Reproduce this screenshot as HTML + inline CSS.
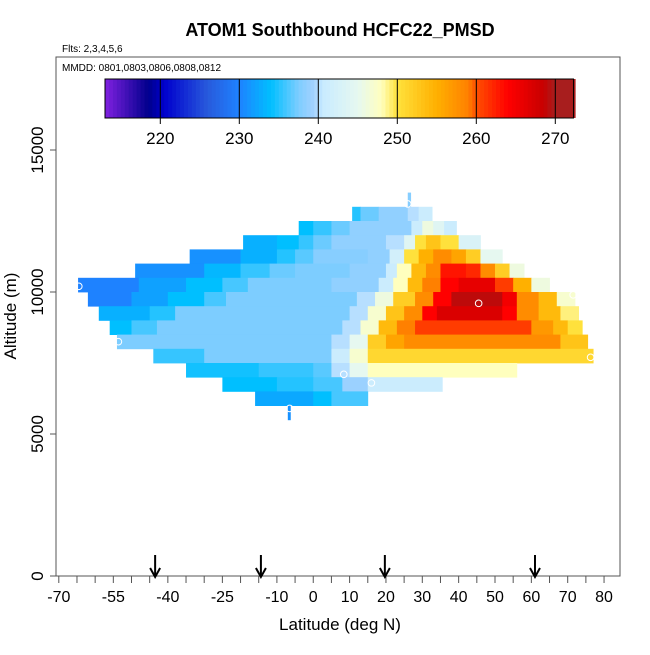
<!DOCTYPE html>
<html><head><meta charset="utf-8"><style>
body{margin:0;background:#fff}
svg text{font-family:"Liberation Sans",sans-serif}
</style></head><body>
<svg id="c" width="650" height="650" xmlns="http://www.w3.org/2000/svg">
<text x="340" y="36" text-anchor="middle" font-size="18" font-weight="bold">ATOM1 Southbound HCFC22_PMSD</text>
<text x="62" y="52" font-size="10">Flts: 2,3,4,5,6</text>
<rect x="56" y="57" width="564" height="519" fill="none" stroke="#555" stroke-width="1"/>
<text x="62" y="71" font-size="10">MMDD: 0801,0803,0806,0808,0812</text>
<g id="heat"></g>
<g id="circ"></g>
<g id="cbar"></g>
<g id="axes"></g>
<text x="340" y="630" text-anchor="middle" font-size="17">Latitude (deg N)</text>
<text transform="translate(16,316) rotate(-90)" text-anchor="middle" font-size="17">Altitude (m)</text>
</svg>
<script>
// rows: bottom altitude (m) and segments [latStart, latEnd, value]
const rowAlts = [13000,12500,12000,11500,11000,10500,10000,9500,9000,8500,8000,7500,7000,6500,6000,5500];
const rowSegs = [
 [[26,26.8,238]],
 [[10.7,13,235],[13,18,237],[18,26,238.5],[26,29,240],[29,32.7,241]],
 [[-4,0,234],[0,5,235.5],[5,10,237],[10,27,238.5],[27,30,241],[30,33,246],[33,36,244],[36,39.4,241]],
 [[-19.3,-10,233],[-10,-4,234],[-4,0,235.5],[0,5,237],[5,20,238.5],[20,25,240],[25,28,244],[28,31,250],[31,35,253],[35,40,250],[40,46,243]],
 [[-34,-20,231],[-20,-10,233],[-10,-5,235],[-5,0,236.5],[0,15,238],[15,21,238.5],[21,25,242],[25,29,250],[29,33,255],[33,38,258],[38,42,256],[42,46,252],[46,52,245]],
 [[-49,-30,231],[-30,-20,233.5],[-20,-12,235.5],[-12,-5,237],[-5,10,237.5],[10,20,238.5],[20,23,241],[23,27,248],[27,31,254],[31,35,258],[35,42,263],[42,46,262],[46,50,258],[50,54,252],[54,58,246]],
 [[-64.7,-48,230],[-48,-35,232],[-35,-25,234],[-25,-18,236],[-18,5,237.5],[5,18,238.5],[18,22,241],[22,26,248],[26,30,254],[30,35,259],[35,40,264],[40,50,266],[50,55,261],[55,60,255],[60,65,246]],
 [[-62,-50,230],[-50,-40,232],[-40,-30,234],[-30,-24,236],[-24,12,237.5],[12,17,240],[17,22,246],[22,28,252],[28,33,258],[33,38,264],[38,52,269],[52,56,265],[56,62,258],[62,67,254],[67,72,247]],
 [[-59,-45,233],[-45,-38,235],[-38,10,237.5],[10,15,240],[15,20,247],[20,25,253],[25,30,258],[30,34,264],[34,52,267],[52,56,264],[56,62,258],[62,68,254],[68,73,249]],
 [[-56,-50,234],[-50,-43,236],[-43,8,237.5],[8,13,240],[13,18,247],[18,23,254],[23,28,259],[28,60,261],[60,66,257],[66,70,254],[70,74,250]],
 [[-54,5,237.5],[5,10,240],[10,15,245],[15,20,252],[20,25,256],[25,68,258],[68,75.5,253]],
 [[-44,-30,235.5],[-30,5,237.5],[5,10,241],[10,15,247],[15,77,251]],
 [[-35,-15,234.5],[-15,0,235.5],[0,5,236.5],[5,10,240],[10,15,245],[15,56,248]],
 [[-25,-10,234],[-10,0,235],[0,8,236],[8,15,239],[15,35.5,241]],
 [[-16,0,232.5],[0,5,234],[5,15,236]],
 [[-7,-6.3,231]]
];
const markLat = [-64.5,-53.6,-6.5,8.4,16,45.5,76.3,26,71.5];
const markAlt = [10200,8250,5900,7100,6800,9600,7700,13100,9900];
const arrowLat = [-43.5,-14.4,19.7,61];
const xTicks = [-70,-55,-40,-25,-10,0,10,20,30,40,50,60,70,80];
const yTicks = [0,5000,10000,15000];
const cbTicks = [220,230,240,250,260,270];

const X = lat => 58.8 + (lat + 70) * 3.635;
const Y = alt => 576 - alt * 0.0284;
const CB = v => 105 + (v - 213) * 7.9;
const stops = [[213,[128,32,224]],[218.5,[0,0,140]],[220.5,[0,0,205]],[226,[40,90,220]],[230,[30,130,255]],[234,[0,191,255]],[237.5,[125,205,255]],[239.5,[165,210,255]],[240.5,[200,235,255]],[245,[230,248,240]],[248,[255,255,190]],[250,[255,225,60]],[255,[255,176,0]],[259,[255,128,0]],[260,[255,80,0]],[264,[255,0,0]],[268.5,[200,0,0]],[270,[168,30,30]],[272.3,[168,30,30]]];
function col(v){
  for(let i=1;i<stops.length;i++){ if(v<=stops[i][0]){const a=stops[i-1],b=stops[i];const t=Math.max(0,(v-a[0])/(b[0]-a[0]));return 'rgb('+a[1].map((c,k)=>Math.round(c+(b[1][k]-c)*t)).join(',')+')';}}
  return 'rgb(168,30,30)';
}
const NS='http://www.w3.org/2000/svg';
function mk(tag,attrs,parent){const e=document.createElementNS(NS,tag);for(const k in attrs)e.setAttribute(k,attrs[k]);parent.appendChild(e);return e;}
const heat=document.getElementById('heat');
rowAlts.forEach((alt,r)=>{
  rowSegs[r].forEach(s=>{
    const e=mk('rect',{x:X(s[0]),y:Y(alt+500),width:X(s[1])-X(s[0])+0.4,height:Y(alt)-Y(alt+500)+0.4,fill:col(s[2])},heat);
    
    
  });
});
const circ=document.getElementById('circ');
markLat.forEach((la,i)=>{
  const e=mk('circle',{cx:X(la),cy:Y(markAlt[i]),r:3.3,fill:'none',stroke:'#fff','stroke-width':1},circ);
  
  
});
const cb=document.getElementById('cbar');
for(let v=213;v<272.3;v+=0.5){mk('rect',{x:CB(v),y:79,width:4.5,height:39,fill:col(v+0.25)},cb);}
mk('rect',{x:105,y:79,width:CB(272.3)-105,height:39,fill:'none',stroke:'#000','stroke-width':1},cb);
cbTicks.forEach(t=>{
  mk('line',{x1:CB(t),x2:CB(t),y1:79,y2:124,stroke:'#000','stroke-width':1},cb);
  const e=mk('text',{x:CB(t),y:144,'text-anchor':'middle','font-size':'17'},cb);
  e.textContent=t;
  
  
});
const ax=document.getElementById('axes');
for(let l=-70;l<=80;l+=5){mk('line',{x1:X(l),x2:X(l),y1:576,y2:583,stroke:'#555'},ax);}
xTicks.forEach(t=>{
  const e=mk('text',{x:X(t),y:602,'text-anchor':'middle','font-size':'16'},ax);
  e.textContent=t;
  
  
});
yTicks.forEach(t=>{
  mk('line',{x1:50,x2:56,y1:Y(t),y2:Y(t),stroke:'#555'},ax);
  const e=mk('text',{transform:'translate(43,'+Y(t)+') rotate(-90)','text-anchor':'middle','font-size':'17'},ax);
  e.textContent=t;
  
  
});
arrowLat.forEach(la=>{
  const x=X(la);
  const g=mk('g',{},ax);
  
  
  mk('line',{x1:x,x2:x,y1:555,y2:576,stroke:'#000','stroke-width':2},g);
  mk('polyline',{points:(x-5)+',568 '+x+',577 '+(x+5)+',568',fill:'none',stroke:'#000','stroke-width':2},g);
});
</script>
</body></html>
